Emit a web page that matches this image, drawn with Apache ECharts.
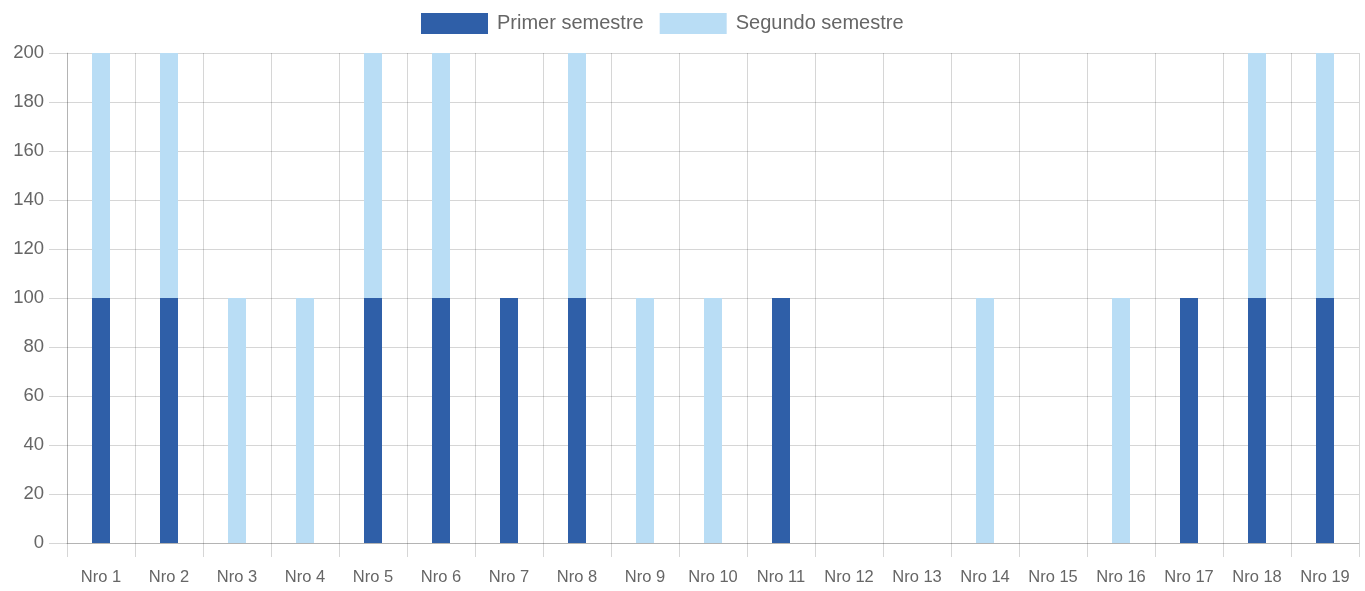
<!DOCTYPE html>
<html>
<head>
<meta charset="utf-8">
<script src="https://cdn.jsdelivr.net/npm/echarts@6/dist/echarts.min.js"></script>
<style>
html,body{margin:0;padding:0;background:#fff;}
#chart{width:1365px;height:591px;}
</style>
</head>
<body>
<div id="chart"></div>
<script>
var categories = ['Nro 1','Nro 2','Nro 3','Nro 4','Nro 5','Nro 6','Nro 7','Nro 8','Nro 9','Nro 10',
	'Nro 11','Nro 12','Nro 13','Nro 14','Nro 15','Nro 16','Nro 17','Nro 18','Nro 19'];
var primerSemestre = [100,100,0,0,100,100,100,100,0,0,100,0,0,0,0,0,100,100,100];
var segundoSemestre = [100,100,100,100,100,100,0,100,100,100,0,0,0,100,0,100,0,100,100];
var yTicks = {min: 0, max: 200, interval: 20};

var gridColor = 'rgba(0,0,0,0.16)';
var textColor = '#666';
var fontName = '"Liberation Sans", Arial, Helvetica, sans-serif';

var chart = echarts.init(document.getElementById('chart'));
var option = {
	animation: false,
	textStyle: {fontFamily: fontName},
	legend: {
		left: 421,
		top: 13,
		padding: 0,
		itemWidth: 67,
		itemHeight: 21,
		itemGap: 16,
		icon: 'rect',
		textStyle: {fontSize: 20, color: textColor, fontFamily: fontName, padding: [0,0,0,4]},
		data: ['Primer semestre','Segundo semestre']
	},
	grid: {
		left: 67,
		right: 6,
		top: 53,
		bottom: 48,
		containLabel: false
	},
	xAxis: {
		type: 'category',
		data: categories,
		boundaryGap: true,
		axisLine: {show: true, lineStyle: {color: gridColor}},
		axisTick: {show: true, length: 14, lineStyle: {color: gridColor}},
		splitLine: {show: true, lineStyle: {color: gridColor}},
		axisLabel: {color: textColor, fontSize: 16.5, margin: 26, fontFamily: fontName}
	},
	yAxis: {
		type: 'value',
		min: yTicks.min,
		max: yTicks.max,
		interval: yTicks.interval,
		axisLine: {show: true, lineStyle: {color: gridColor}},
		axisTick: {show: true, length: 18, lineStyle: {color: gridColor}},
		splitLine: {show: true, lineStyle: {color: gridColor}},
		axisLabel: {color: textColor, fontSize: 18.5, margin: 23, fontFamily: fontName}
	},
	series: [
		{
			name: 'Primer semestre',
			type: 'bar',
			stack: 'total',
			barWidth: 18,
			itemStyle: {color: '#2f5fa8'},
			data: primerSemestre
		},
		{
			name: 'Segundo semestre',
			type: 'bar',
			stack: 'total',
			barWidth: 18,
			itemStyle: {color: '#b9ddf5'},
			data: segundoSemestre
		}
	]
};
chart.setOption(option);
</script>
</body>
</html>
